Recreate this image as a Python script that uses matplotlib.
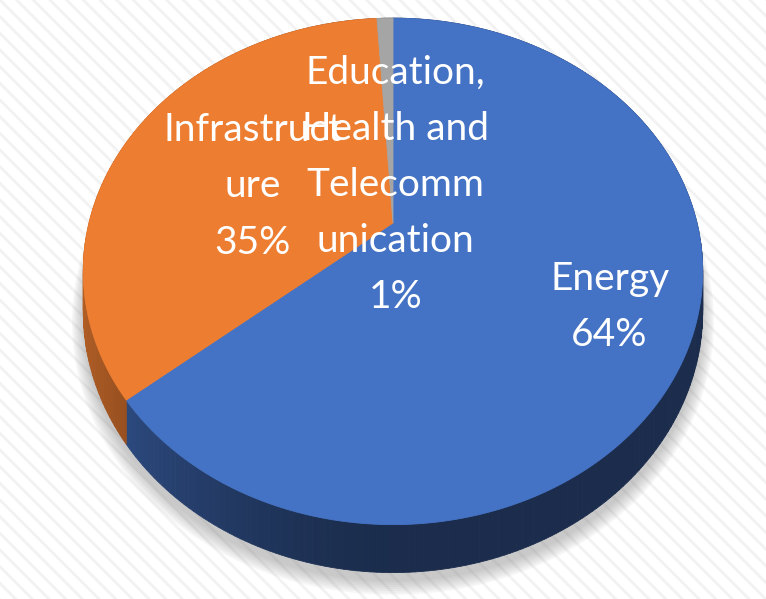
import numpy as np
import matplotlib
matplotlib.use('Agg')
import matplotlib.pyplot as plt
from matplotlib.collections import PolyCollection
from matplotlib.patches import Rectangle, Polygon
from matplotlib.colors import to_rgb
from matplotlib import font_manager

plt.rcParams['hatch.linewidth'] = 2.0

# ---- data ----
categories = ['Energy', 'Infrastructure', 'Education, Health and Telecommunication']
values = [64, 35, 1]
labels = ['Energy\n64%', 'Infrastruct\nure\n35%',
          'Education,\nHealth and\nTelecomm\nunication\n1%']
colors = ['#4472C4', '#ED7D31', '#A5A5A5']

# ---- styling / geometry ----
W, H = 766, 599
CX, CY = 393, 223      # projected centre of the disc
SX, SY = 304, 244      # disc scale
K = 0.191              # perspective strength
DEPTH = 38.8           # thickness of the disc
label_r = [0.74, 0.50, 0.17]
label_off = [(0, 2), (-6, 10), (4, 2)]

avail = {f.name for f in font_manager.fontManager.ttflist}
FONT = 'Liberation Sans Narrow' if 'Liberation Sans Narrow' in avail else 'Lato'
FSIZE = 31 if FONT == 'Liberation Sans Narrow' else 28

fig = plt.figure(figsize=(W / 100, H / 100), dpi=100)
ax = fig.add_axes([0, 0, 1, 1])
ax.set_xlim(0, W)
ax.set_ylim(H, 0)
ax.axis('off')

ax.add_patch(Rectangle((0, 0), W, H, facecolor='white', edgecolor='#F2F2F2',
                       hatch='\\\\', linewidth=0, zorder=0))


def proj(theta_deg, r=1.0, depth=0.0):
    t = np.radians(theta_deg)
    u = r * np.sin(t)
    v = r * np.cos(t)
    w = 1 + K * v
    return CX + SX * u / w, CY - SY * v / w + depth / w


# slice angles (clockwise from 12 o'clock)
total = float(sum(values))
bounds = np.concatenate([[0], np.cumsum(values)]) / total * 360.0

# ---- soft shadow ----
full = np.linspace(0, 360, 361)
for i, rs in enumerate(np.linspace(1.035, 1.0, 8)):
    x, y = proj(full, rs, DEPTH + 7)
    ax.add_patch(Polygon(np.column_stack([x, y]), closed=True,
                         facecolor='#8C8C8C', edgecolor='none', alpha=0.07, zorder=1))


def shade(theta):
    s = np.sin(np.radians(theta))
    return 0.39 + 0.37 * np.clip(-s, 0, 1) ** 1.5


# ---- side walls ----
polys, fcs = [], []
for a0, a1, c in zip(bounds[:-1], bounds[1:], colors):
    base = np.array(to_rgb(c))
    n = max(2, int(np.ceil((a1 - a0) / 1.0)))
    th = np.linspace(a0, a1, n + 1)
    for t0, t1 in zip(th[:-1], th[1:]):
        x0, y0 = proj(t0)
        x1, y1 = proj(t1)
        x2, y2 = proj(t1, 1.0, DEPTH)
        x3, y3 = proj(t0, 1.0, DEPTH)
        polys.append([(x0, y0), (x1, y1), (x2, y2), (x3, y3)])
        fcs.append(np.clip(base * shade((t0 + t1) / 2), 0, 1))
ax.add_collection(PolyCollection(polys, facecolors=fcs, edgecolors=fcs,
                                 linewidths=0.6, zorder=2))

# ---- top faces ----
for a0, a1, c in zip(bounds[:-1], bounds[1:], colors):
    th = np.linspace(a0, a1, max(3, int((a1 - a0) * 2)))
    x, y = proj(th)
    pts = np.vstack([[CX, CY], np.column_stack([x, y])])
    ax.add_patch(Polygon(pts, closed=True, facecolor=c, edgecolor=c,
                         linewidth=0.6, zorder=3))

# ---- labels ----
for a0, a1, lab, r, (dx, dy) in zip(bounds[:-1], bounds[1:], labels, label_r, label_off):
    mid = (a0 + a1) / 2
    x, y = proj(mid, r)
    ax.text(x + dx, y + dy, lab, color='white', fontsize=FSIZE, family=FONT,
            ha='center', va='center', linespacing=1.7, zorder=5)

fig.savefig('out.png', dpi=100)
